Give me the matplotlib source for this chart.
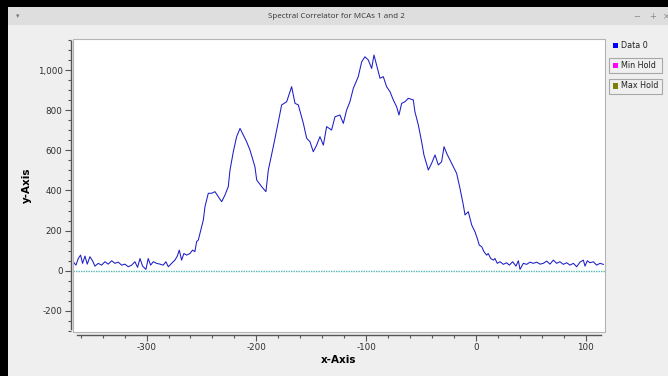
import matplotlib
matplotlib.use("Agg")
import matplotlib.pyplot as plt
from matplotlib.patches import Rectangle
from matplotlib.ticker import MultipleLocator, FuncFormatter

# values
x_vals = [-366.8, -364.3, -362.2, -360.1, -358.3, -356.1, -354.0, -351.6, -349.2, -347.0,
          -344.0, -341.0, -337.9, -334.9, -331.8, -328.8, -325.8, -322.7, -319.7, -316.7,
          -313.6, -310.6, -308.2, -306.0, -303.6, -300.6, -298.5, -296.3, -293.9, -290.9,
          -287.8, -284.8, -282.4, -280.2, -277.2, -274.2, -272.0, -270.2, -268.1, -266.0,
          -263.5, -260.5, -258.1, -256.0, -254.4, -252.9,
          -251.4, -248.3, -246.8, -243.8, -240.7, -237.7, -234.7, -231.6, -228.6, -225.6,
          -224.0, -221.0, -218.0, -214.9, -211.9, -208.9, -205.8, -201.3, -199.7, -195.2,
          -191.3, -189.1, -184.6, -180.0, -177.0, -172.4, -167.9, -164.8, -161.8, -157.2,
          -154.2, -151.2, -148.2, -145.1, -142.1, -139.0, -136.0, -131.5, -128.4, -123.9,
          -120.8, -117.8, -114.8, -111.7, -107.2, -104.1, -101.1, -98.1, -95.0, -92.9,
          -90.5, -87.4, -84.4, -81.4, -78.3, -75.3, -72.3, -70.1, -67.7, -64.7,
          -61.6, -57.1, -55.6, -52.5, -49.5, -47.4, -43.4, -40.4, -37.3, -34.3,
          -31.3, -29.1, -26.7, -22.2, -17.6, -14.6, -11.5, -10.0, -7.0, -3.9,
          -0.9, 1.2, 3.0, 5.2, 7.3, 9.7, 11.2, 13.4, 15.8, 17.3,
          19.4, 21.9, 24.9, 27.9, 30.4, 33.4, 36.4, 38.6, 40.1, 43.1,
          46.2, 49.2, 52.2, 55.3, 58.3, 61.3, 64.4, 67.4, 70.4, 73.5,
          76.5, 79.5, 82.6, 85.6, 88.7, 91.7, 94.7, 97.8, 99.3, 101.4,
          103.8, 106.9, 109.9, 112.9, 116.0]
data0 = [45, 28, 61, 78, 37, 73, 33, 70, 50, 23,
         37, 28, 45, 33, 50, 37, 43, 28, 33, 20,
         28, 45, 17, 61, 23, 7, 61, 28, 45, 37,
         33, 28, 45, 20, 37, 53, 73, 103, 53, 86,
         78, 86, 103, 95, 145, 153,
         186, 253, 319, 386, 386, 394, 369, 344, 377, 419,
         502, 593, 668, 709, 676, 643, 601, 518, 452, 419,
         394, 502, 618, 742, 826, 842, 917, 834, 826, 734,
         660, 643, 593, 626, 668, 626, 718, 701, 767, 776,
         734, 801, 842, 909, 967, 1041, 1066, 1050, 1008, 1075,
         1025, 959, 967, 917, 892, 851, 817, 776, 834, 842,
         859, 851, 792, 726, 643, 577, 502, 535, 577, 527,
         543, 618, 585, 535, 485, 411, 327, 278, 294, 228,
         194, 161, 128, 120, 95, 78, 86, 61, 53, 61,
         37, 45, 32, 40, 28, 45, 23, 50, 7, 37,
         32, 43, 37, 43, 33, 37, 48, 33, 53, 37,
         45, 32, 40, 28, 37, 20, 43, 53, 23, 50,
         40, 45, 28, 37, 32]
hold_level = 0
legend_names = ["Data 0", "Min Hold", "Max Hold"]
legend_colors = ["#0000ff", "#ff00ff", "#808000"]

W, H = 668, 376
fig = plt.figure(figsize=(W / 100, H / 100), dpi=100, facecolor="black")

def fx(px):
    return px / W

def fy(py):
    return 1 - py / H

# window body and title bar (behind the axes)
fig.add_artist(Rectangle((fx(8), 0), fx(W - 8), fy(7), transform=fig.transFigure,
                         facecolor="#efefef", edgecolor="none", zorder=-10))
fig.add_artist(Rectangle((fx(8), fy(25)), fx(W - 8), 18 / H, transform=fig.transFigure,
                         facecolor="#dedede", edgecolor="none", zorder=-9))
fig.text(fx(336), fy(16.5), "Spectral Correlator for MCAs 1 and 2", ha="center", va="center",
         fontsize=5.8, color="#333333", family="Open Sans")
fig.text(fx(18), fy(16), "\u25be", ha="center", va="center", fontsize=5, color="#777777")
fig.text(fx(637), fy(16.5), "\u2212", ha="center", va="center", fontsize=6, color="#888888")
fig.text(fx(652.5), fy(16.5), "+", ha="center", va="center", fontsize=6, color="#888888")
fig.text(fx(666), fy(16.5), "\u00d7", ha="center", va="center", fontsize=6, color="#888888")

# plot canvas
left, right, top, bottom = 73, 605, 38.5, 332
ax = fig.add_axes([fx(left), fy(bottom), fx(right - left), (bottom - top) / H])
ax.set_facecolor("white")
ax.plot(x_vals, data0, color="#1c1cc8", lw=0.75)
ax.axhline(hold_level, color="#55b5b5", lw=1.0, ls=(0, (1, 0.8)))

ax.set_xlim(-367, 117.5)
ax.set_ylim(-305, 1157)

for s in ["top", "right"]:
    ax.spines[s].set_visible(False)
ax.spines["left"].set_position(("outward", 1.5))
ax.spines["bottom"].set_position(("outward", 2))
ax.spines["left"].set_bounds(-290, 1144)
ax.spines["bottom"].set_bounds(-363, 114)
for s in ["left", "bottom"]:
    ax.spines[s].set_color("#555555")
    ax.spines[s].set_linewidth(1.0)
ax.add_patch(Rectangle((0, 0), 1, 1, transform=ax.transAxes, fill=False,
                       edgecolor="#b4b4b4", lw=0.8, clip_on=False, zorder=5))

ax.xaxis.set_major_locator(MultipleLocator(100))
ax.xaxis.set_minor_locator(MultipleLocator(20))
ax.yaxis.set_major_locator(MultipleLocator(200))
ax.yaxis.set_minor_locator(MultipleLocator(50))
fmt = FuncFormatter(lambda v, p: f"{v:,.0f}".replace("\u2212", "-"))
ax.xaxis.set_major_formatter(fmt)
ax.yaxis.set_major_formatter(fmt)
ax.tick_params(which="major", length=4, width=0.8, color="#555555", labelsize=6.3,
               labelcolor="#2e2e2e", pad=2)
ax.tick_params(which="minor", length=2, width=0.8, color="#555555")

ax.set_xlabel("x-Axis", fontsize=7.5, fontweight="bold", labelpad=2)
ax.set_ylabel("y-Axis", fontsize=7.5, fontweight="bold", labelpad=4)

# legend on the right
leg_y = [45.5, 65.5, 86]
for i, (name, col) in enumerate(zip(legend_names, legend_colors)):
    if i > 0:
        fig.add_artist(Rectangle((fx(609), fy(leg_y[i] + 7.5)), fx(53), 15 / H,
                                 transform=fig.transFigure, facecolor="none",
                                 edgecolor="#a8a8a8", lw=0.8))
    fig.add_artist(Rectangle((fx(612.5), fy(leg_y[i] + 2.5)), fx(5), 5 / H,
                             transform=fig.transFigure, facecolor=col, edgecolor="none"))
    fig.text(fx(621), fy(leg_y[i]), name, ha="left", va="center", fontsize=5.8,
             color="#222222")

fig.savefig("out.png", dpi=100, facecolor="black")
